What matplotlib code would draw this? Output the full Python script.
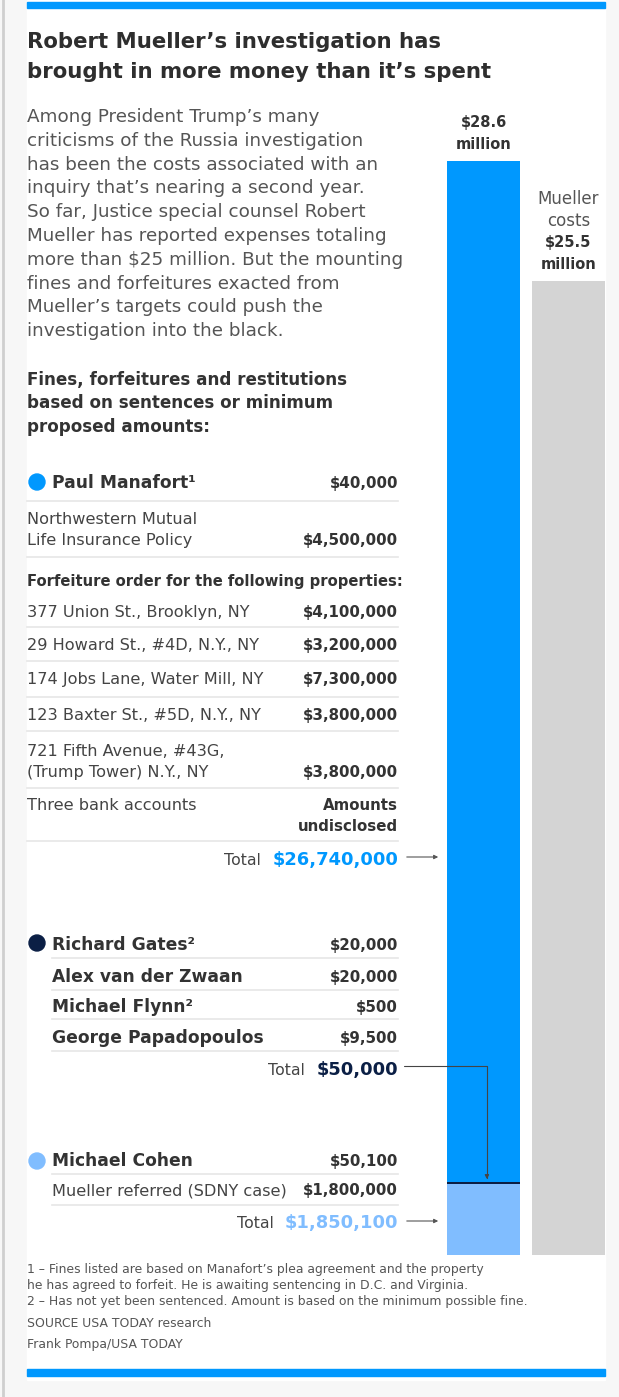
import matplotlib
matplotlib.use("Agg")
import matplotlib.pyplot as plt
from matplotlib.patches import Rectangle, Circle

plt.rcParams['font.family'] = ['DejaVu Sans']

# data (millions of dollars)
manafort_total = 26.74
gates_total = 0.05
cohen_total = 1.8501
mueller_costs = 25.5

manafort_items = [
    ("Northwestern Mutual\nLife Insurance Policy", "$4,500,000"),
    ("377 Union St., Brooklyn, NY", "$4,100,000"),
    ("29 Howard St., #4D, N.Y., NY", "$3,200,000"),
    ("174 Jobs Lane, Water Mill, NY", "$7,300,000"),
    ("123 Baxter St., #5D, N.Y., NY", "$3,800,000"),
    ("721 Fifth Avenue, #43G,\n(Trump Tower) N.Y., NY", "$3,800,000"),
    ("Three bank accounts", "Amounts\nundisclosed"),
]
gates_group = [
    ("Richard Gates\u00b2", "$20,000"),
    ("Alex van der Zwaan", "$20,000"),
    ("Michael Flynn\u00b2", "$500"),
    ("George Papadopoulos", "$9,500"),
]
cohen_items = [
    ("Michael Cohen", "$50,100"),
    ("Mueller referred (SDNY case)", "$1,800,000"),
]

BLUE = '#0098fe'
NAVY = '#0b1f45'
LIGHT = '#80bdff'
GRAY = '#d4d4d4'
TXT = '#333333'
SEP = '#e6e6e6'

W, H = 619, 1397
fig = plt.figure(figsize=(W / 100, H / 100), dpi=100)
fig.patch.set_facecolor('#f7f7f7')

bg = fig.add_axes([0, 0, 1, 1], zorder=0)
bg.set_xlim(0, W)
bg.set_ylim(H, 0)
bg.axis('off')
bg.add_patch(Rectangle((27, 0), 578, 1380, color='white'))
bg.add_patch(Rectangle((27, 2), 578, 6, color=BLUE))
bg.add_patch(Rectangle((27, 1369), 578, 7, color=BLUE))
bg.plot([3, 3], [0, H], color='#cfcfcf', lw=2)

# bars
blue_total = manafort_total + gates_total + cohen_total
bx = fig.add_axes([447 / W, 1 - 1255 / H, 158 / W, (1255 - 151) / H], zorder=1)
bx.bar(0, cohen_total, width=0.86, color=LIGHT)
bx.bar(0, gates_total, bottom=cohen_total, width=0.86, color=NAVY)
bx.bar(0, manafort_total, bottom=cohen_total + gates_total, width=0.86, color=BLUE)
bx.bar(1, mueller_costs, width=0.86, color=GRAY)
bx.set_xlim(-0.43, 1.43)
bx.set_ylim(0, 28.9)
bx.axis('off')

def bar_label(x, top, lines):
    # stack label lines upward from the bar top
    for k, (s, bold, size) in enumerate(reversed(lines)):
        bx.annotate(s, xy=(x, top), xytext=(0, (12 + k * 21.5) * 0.72),
                    textcoords='offset points', ha='center', va='baseline',
                    fontsize=size, fontweight='bold' if bold else 'normal',
                    color=TXT if bold else '#555555', annotation_clip=False)

bar_label(0, blue_total, [("${:.1f}".format(blue_total), True, 10.5), ("million", True, 10.5)])
bar_label(1, mueller_costs, [("Mueller", False, 12), ("costs", False, 12),
                             ("${:.1f}".format(mueller_costs), True, 10.5), ("million", True, 10.5)])

ax = fig.add_axes([0, 0, 1, 1], zorder=2)
ax.set_xlim(0, W)
ax.set_ylim(H, 0)
ax.axis('off')
ax.patch.set_alpha(0)

L, R = 27, 398

def t(x, y, s, size, bold=False, color=TXT, ha='left'):
    return ax.text(x, y, s, fontsize=size, fontweight='bold' if bold else 'normal',
                   color=color, ha=ha, va='baseline')

def sep(y, x0=L):
    ax.plot([x0, R], [y, y], color=SEP, lw=1.2)

# title and intro
t(L, 48, "Robert Mueller\u2019s investigation has", 15.3, True, '#2e2e2e')
t(L, 78, "brought in more money than it\u2019s spent", 15.3, True, '#2e2e2e')
intro = ["Among President Trump\u2019s many",
         "criticisms of the Russia investigation",
         "has been the costs associated with an",
         "inquiry that\u2019s nearing a second year.",
         "So far, Justice special counsel Robert",
         "Mueller has reported expenses totaling",
         "more than $25 million. But the mounting",
         "fines and forfeitures exacted from",
         "Mueller\u2019s targets could push the",
         "investigation into the black."]
for i, line in enumerate(intro):
    t(L, 122 + i * 23.8, line, 13.2, color='#555555')

t(L, 385, "Fines, forfeitures and restitutions", 12.1, True)
t(L, 408, "based on sentences or minimum", 12.1, True)
t(L, 432, "proposed amounts:", 12.1, True)

NAME, ROW, VAL = 12.3, 11.6, 10.8

# Manafort
ax.add_patch(Circle((37, 482), 8, color=BLUE))
t(52, 488, "Paul Manafort\u00b9", NAME, True)
t(R, 488, "$40,000", VAL, True, ha='right')
sep(501)
rows_y = [545, 617, 650, 684, 720, 777, 810]
seps_y = [557, 627, 661, 697, 731, 788, 841]
for (lab, val), y, sy in zip(manafort_items, rows_y, seps_y):
    lab_lines = lab.split('\n')
    for k, s in enumerate(lab_lines):
        t(L, y - (len(lab_lines) - 1 - k) * 21, s, ROW, color='#444444')
    for k, s in enumerate(val.split('\n')):
        t(R, y + k * 21, s, VAL, True, ha='right')
    sep(sy)
t(L, 586, "Forfeiture order for the following properties:", 10.6, True)

def total(y, value, color):
    v = t(R, y, value, 12.9, True, color, ha='right')
    fig.canvas.draw()
    bb = v.get_window_extent().transformed(ax.transData.inverted())
    t(min(bb.x0, bb.x1) - 11, y, "Total", 11.3, color='#444444', ha='right')

total(865, "${:,.0f}".format(manafort_total * 1e6), BLUE)
ax.annotate('', xy=(441, 857), xytext=(404, 857),
            arrowprops=dict(arrowstyle='-|>', color='#555555', lw=0.8, mutation_scale=6))

# Gates group
ax.add_patch(Circle((37, 943), 8, color=NAVY))
for (lab, val), y, sy in zip(gates_group, [950, 982, 1012, 1043], [958, 990, 1019, 1051]):
    t(52, y, lab, NAME, True)
    t(R, y, val, VAL, True, ha='right')
    sep(sy, 52)
total(1075, "${:,.0f}".format(gates_total * 1e6), NAVY)
ax.annotate('', xy=(0.04, cohen_total + gates_total / 2), xycoords=bx.transData,
            xytext=(404, 1066), textcoords=ax.transData,
            arrowprops=dict(arrowstyle='-|>', color='#444444', lw=0.8, mutation_scale=6,
                            shrinkA=0, shrinkB=3,
                            connectionstyle='angle,angleA=0,angleB=90,rad=0'))

# Cohen
ax.add_patch(Circle((37, 1161), 8, color=LIGHT))
t(52, 1166, cohen_items[0][0], NAME, True)
t(R, 1166, cohen_items[0][1], VAL, True, ha='right')
sep(1174, 52)
t(52, 1195, cohen_items[1][0], ROW, color='#444444')
t(R, 1195, cohen_items[1][1], VAL, True, ha='right')
sep(1205, 52)
total(1228, "${:,.0f}".format(cohen_total * 1e6), LIGHT)
ax.annotate('', xy=(441, 1221), xytext=(404, 1221),
            arrowprops=dict(arrowstyle='-|>', color='#555555', lw=0.8, mutation_scale=6))

# notes
notes = ["1 \u2013 Fines listed are based on Manafort\u2019s plea agreement and the property",
         "he has agreed to forfeit. He is awaiting sentencing in D.C. and Virginia.",
         "2 \u2013 Has not yet been sentenced. Amount is based on the minimum possible fine."]
for i, n in enumerate(notes):
    t(L, 1273 + i * 16, n, 8.9, color='#555555')
t(L, 1327, "SOURCE USA TODAY research", 8.9, color='#555555')
t(L, 1348, "Frank Pompa/USA TODAY", 8.9, color='#555555')

fig.savefig('out.png', dpi=100)
